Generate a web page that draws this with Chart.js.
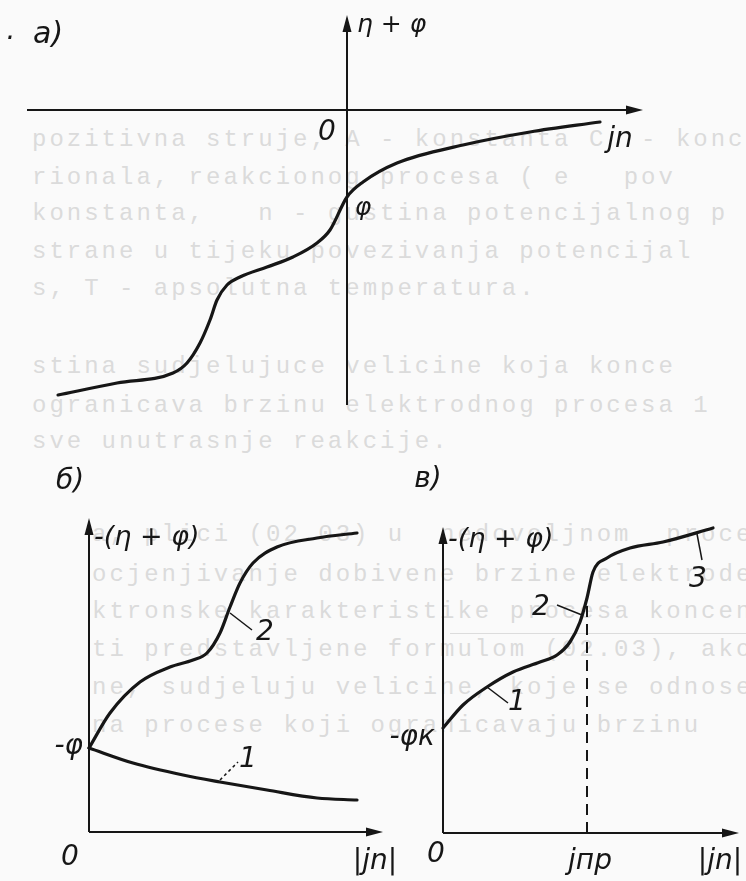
<!DOCTYPE html>
<html>
<head>
<meta charset="utf-8">
<script src="https://cdn.jsdelivr.net/npm/chart.js@4"></script>
<style>
body { margin: 0; background: #fafafa; }
#page { position: relative; width: 746px; height: 881px; overflow: hidden; background: #fafafa; }
.bleed { position: absolute; font: 24px "Liberation Mono"; letter-spacing: 3px; color: #dbdbdb; white-space: pre; }
#rule { position: absolute; left: 450px; top: 633px; width: 296px; height: 1px; background: #dcdcdc; }
canvas { position: absolute; }
</style>
</head>
<body>
<div id="page">
  <!-- show-through of the text printed on the other side of the page -->
  <div class="bleed" style="left:32px;top:126px">pozitivna struje, A - konstanta C  - konce</div>
  <div class="bleed" style="left:32px;top:164px">rionala, reakcionog procesa ( e   pov</div>
  <div class="bleed" style="left:32px;top:200px">konstanta,   n - gustina potencijalnog p</div>
  <div class="bleed" style="left:32px;top:238px">strane u tijeku povezivanja potencijal</div>
  <div class="bleed" style="left:32px;top:275px">s, T - apsolutna temperatura.</div>
  <div class="bleed" style="left:32px;top:353px">stina sudjelujuce velicine koja konce</div>
  <div class="bleed" style="left:32px;top:392px">ogranicava brzinu elektrodnog procesa 1</div>
  <div class="bleed" style="left:32px;top:428px">sve unutrasnje reakcije.</div>
  <div class="bleed" style="left:92px;top:521px">a, plici (02.03) u  nedovoljnom  proce</div>
  <div class="bleed" style="left:92px;top:561px">ocjenjivanje dobivene brzine elektrode (li</div>
  <div class="bleed" style="left:92px;top:598px">ktronske karakteristike procesa koncentr</div>
  <div class="bleed" style="left:92px;top:636px">ti predstavljene formulom (02.03), ako se</div>
  <div class="bleed" style="left:92px;top:674px">ne, sudjeluju velicine, koje se odnose</div>
  <div class="bleed" style="left:92px;top:712px">na procese koji ogranicavaju brzinu</div>
  <div id="rule"></div>

  <canvas id="chartA" width="746" height="430" style="left:0;top:0"></canvas>
  <canvas id="chartB" width="400" height="421" style="left:0;top:460px"></canvas>
  <canvas id="chartV" width="376" height="421" style="left:370px;top:460px"></canvas>
</div>

<script>
//a) eta+phi versus j_n (arbitrary units, origin at 0,0)
var aX = [-28.9, -23, -17.4, -16, -14.7, -13.7, -13, -12, -10.7, -8, -5.4, -3, -1.7, 0, 1.6, 5, 11.6, 18.3, 25.3];
var aY = [-28.5, -27.3, -26.3, -25.3, -23.3, -21, -19, -17.5, -16.7, -15.7, -14.7, -13.3, -12, -8.7, -7.2, -5.3, -3.5, -2.2, -1.2];
var aAxisX = [-32, 29.6];
var aAxisY = [-29.5, 9.5];

//б) -(eta+phi) versus |j_n|, curves 1 and 2 start at -phi
var bX = [0, 4.4, 9.4, 13.1, 17.8, 22.8, 26.8];
var bY1 = [8.4, 6.9, 5.7, 5.0, 4.2, 3.4, 3.2];
var bX2 = [0, 2.1, 5.1, 8.1, 10.4, 11.8, 13.1, 14.1, 15.1, 16.4, 18.8, 22.8, 26.8];
var bY2 = [8.4, 11.9, 15, 16.5, 17.2, 17.9, 19.9, 22.5, 24.9, 26.9, 28.5, 29.4, 29.9];
var bAxisX = [0, 29.4];
var bAxisY = [0, 31.4];

//в) -(eta+phi) versus |j_n| with limiting current j_pr
var vX = [0, 2, 4.4, 7, 9.7, 11.4, 12.7, 13.7, 14.4, 15, 16.4, 18.7, 22, 27];
var vY = [10.5, 12.8, 14.6, 16.1, 17.1, 17.8, 19.1, 21.1, 23.5, 26.1, 27.5, 28.5, 29.1, 30.5];
var jPr = 14.4;
var jPrTop = 22.8;
var vAxisX = [0, 29.6];
var vAxisY = [0, 30.6];

var INK = '#161616';
var LABEL_FONT = 'italic 28px "DejaVu Sans"';
var SMALL_FONT = 'italic 25px "DejaVu Sans"';

function pts(xs, ys) {
    return xs.map(function (x, i) { return {x: x, y: ys[i]}; });
}

function curve(data) {
    return {data: data, showLine: true, borderColor: INK, borderWidth: 3.2, pointRadius: 0,
        cubicInterpolationMode: 'monotone', borderCapStyle: 'round', borderJoinStyle: 'round'};
}

function straight(data, width, dash) {
    return {data: data, showLine: true, borderColor: INK, borderWidth: width, pointRadius: 0,
        tension: 0, borderDash: dash || []};
}

//arrow heads and text labels, placed through the chart scales
function figurePlugin(arrows, labels) {
    return {
        id: 'figure',
        afterDatasetsDraw: function (chart) {
            var ctx = chart.ctx, xs = chart.scales.x, ys = chart.scales.y;
            ctx.save();
            ctx.fillStyle = INK;
            arrows.forEach(function (a) {
                var px = xs.getPixelForValue(a.x), py = ys.getPixelForValue(a.y);
                ctx.beginPath();
                if (a.dir === 'right') {
                    ctx.moveTo(px, py); ctx.lineTo(px - 17, py - 4.5); ctx.lineTo(px - 17, py + 4.5);
                } else {
                    ctx.moveTo(px, py); ctx.lineTo(px - 4.5, py + 17); ctx.lineTo(px + 4.5, py + 17);
                }
                ctx.closePath();
                ctx.fill();
            });
            labels.forEach(function (l) {
                ctx.font = l.font || LABEL_FONT;
                ctx.textAlign = l.align || 'center';
                ctx.textBaseline = 'middle';
                ctx.fillText(l.text, xs.getPixelForValue(l.x), ys.getPixelForValue(l.y));
            });
            ctx.restore();
        }
    };
}

function makeChart(id, datasets, range, plugin) {
    return new Chart(document.getElementById(id).getContext('2d'), {
        type: 'scatter',
        data: {datasets: datasets},
        options: {
            responsive: false,
            animation: false,
            devicePixelRatio: 1,
            layout: {padding: 0},
            plugins: {legend: {display: false}, tooltip: {enabled: false}},
            scales: {
                x: {type: 'linear', display: false, min: range[0], max: range[1]},
                y: {type: 'linear', display: false, min: range[2], max: range[3]}
            }
        },
        plugins: [plugin]
    });
}

//Chart a)
makeChart('chartA', [
    straight([{x: aAxisX[0], y: 0}, {x: aAxisX[1] - 1, y: 0}], 2),
    straight([{x: 0, y: aAxisY[0]}, {x: 0, y: aAxisY[1] - 1}], 2),
    curve(pts(aX, aY))
], [-34.7, 39.9, -32, 11], figurePlugin(
    [{x: aAxisX[1], y: 0, dir: 'right'}, {x: 0, y: aAxisY[1], dir: 'up'}],
    [
        {text: '.', x: -33.6, y: 7.8, align: 'center'},
        {text: 'а)', x: -31.4, y: 7.5, align: 'left', font: 'italic 30px "DejaVu Sans"'},
        {text: 'η + φ', x: 1.0, y: 8.5, align: 'left', font: SMALL_FONT},
        {text: '0', x: -2, y: -2.3},
        {text: 'φ', x: 1.6, y: -9.8, font: SMALL_FONT},
        {text: 'jn', x: 27.3, y: -3}
    ]
));

//Chart б)
makeChart('chartB', [
    straight([{x: bAxisX[0], y: 0}, {x: bAxisX[1] - 1, y: 0}], 2),
    straight([{x: 0, y: bAxisY[0]}, {x: 0, y: bAxisY[1] - 1}], 2),
    curve(pts(bX, bY1)),
    curve(pts(bX2, bY2)),
    straight([{x: 14.1, y: 21.9}, {x: 16.3, y: 20.2}], 1.5),
    straight([{x: 13.1, y: 5.2}, {x: 14.9, y: 7}], 1.5, [3, 3])
], [-8.9, 31.1, -4.9, 37.2], figurePlugin(
    [{x: bAxisX[1], y: 0, dir: 'right'}, {x: 0, y: bAxisY[1], dir: 'up'}],
    [
        {text: 'б)', x: -1.9, y: 35},
        {text: '-(η + φ)', x: 0.5, y: 29.4, align: 'left', font: 'italic 27px "DejaVu Sans"'},
        {text: '-φ', x: -0.6, y: 8.5, align: 'right'},
        {text: '0', x: -1.9, y: -2.6},
        {text: '|jn|', x: 28.6, y: -3},
        {text: '2', x: 17.6, y: 19.9},
        {text: '1', x: 15.9, y: 7.2}
    ]
));

//Chart в)
makeChart('chartV', [
    straight([{x: vAxisX[0], y: 0}, {x: vAxisX[1] - 1, y: 0}], 2),
    straight([{x: 0, y: vAxisY[0]}, {x: 0, y: vAxisY[1] - 1}], 2),
    straight([{x: jPr, y: 0}, {x: jPr, y: jPrTop}], 2, [11, 7]),
    curve(pts(vX, vY)),
    straight([{x: 4.4, y: 14.6}, {x: 6.5, y: 13}], 1.5),
    straight([{x: 11.4, y: 22.8}, {x: 13.9, y: 21.8}], 1.5),
    straight([{x: 25.4, y: 29.9}, {x: 25.9, y: 27.3}], 1.5)
], [-7.3, 30.3, -4.8, 37.3], figurePlugin(
    [{x: vAxisX[1], y: 0, dir: 'right'}, {x: 0, y: vAxisY[1], dir: 'up'}],
    [
        {text: 'в)', x: -1.5, y: 35.3},
        {text: '-(η + φ)', x: 0.5, y: 29.3, align: 'left', font: 'italic 27px "DejaVu Sans"'},
        {text: '-φк', x: -0.8, y: 9.5, align: 'right'},
        {text: '0', x: -0.7, y: -2.2},
        {text: 'jпр', x: jPr + 0.3, y: -2.9},
        {text: '|jn|', x: 27.7, y: -2.9},
        {text: '1', x: 7.4, y: 13},
        {text: '2', x: 9.8, y: 22.5},
        {text: '3', x: 25.5, y: 25.3}
    ]
));
</script>
</body>
</html>
